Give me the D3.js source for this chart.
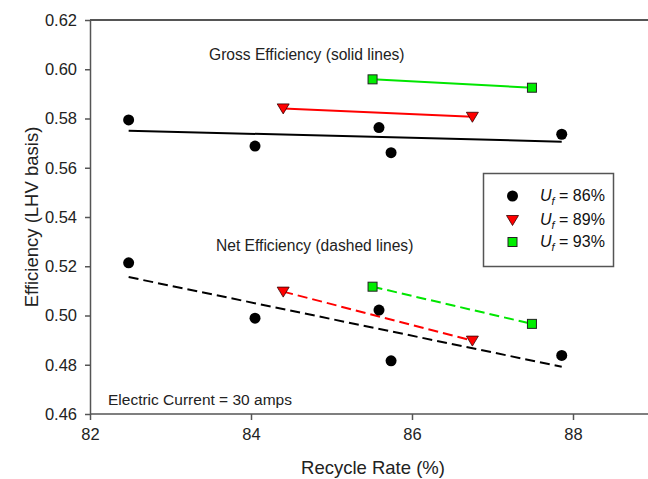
<!DOCTYPE html>
<html>
<head>
<meta charset="utf-8">
<script src="https://cdn.jsdelivr.net/npm/d3@7"></script>
<style>
  body { margin: 0; background: #fff; }
  svg { font-family: "Liberation Sans", Arial, sans-serif; }
</style>
</head>
<body>
<div id="chart"></div>
<script>
// values
var rate86 = [82.48, 84.05, 85.59, 85.74, 87.86];
var gross86 = [0.5794, 0.5688, 0.5763, 0.5661, 0.5736];
var net86 = [0.5214, 0.4989, 0.5022, 0.4816, 0.4838];
var rate89 = [84.40, 86.75];
var gross89 = [0.5841, 0.5807];
var net89 = [0.5097, 0.4898];
var rate93 = [85.51, 87.49];
var gross93 = [0.5959, 0.5925];
var net93 = [0.5117, 0.4966];

var xTicks = [82, 84, 86, 88];
var yTicks = [0.46, 0.48, 0.50, 0.52, 0.54, 0.56, 0.58, 0.60, 0.62];
var legendLabels = ["86%", "89%", "93%"];

var width = 648, height = 479;
var axisColor = "#555";

var x = d3.scaleLinear().domain([82, 89]).range([90, 653.5]);
var y = d3.scaleLinear().domain([0.46, 0.62]).range([414, 20]);

var svg = d3.select("#chart").append("svg")
  .attr("width", width)
  .attr("height", height);

function zip(xs, ys) {
  return xs.map(function(v, i) { return [v, ys[i]]; });
}

// least squares line through a series, drawn over its x extent
function fitLine(xs, ys) {
  var mx = d3.mean(xs), my = d3.mean(ys);
  var sxy = d3.sum(xs, function(v, i) { return (v - mx) * (ys[i] - my); });
  var sxx = d3.sum(xs, function(v) { return (v - mx) * (v - mx); });
  var b = sxy / sxx;
  var ext = d3.extent(xs);
  return ext.map(function(v) { return [v, my + b * (v - mx)]; });
}

var line = d3.line()
  .x(function(d) { return x(d[0]); })
  .y(function(d) { return y(d[1]); });

// frame: top border and axes
svg.append("line")
  .attr("x1", x(82)).attr("x2", width)
  .attr("y1", y(0.62)).attr("y2", y(0.62))
  .attr("stroke", axisColor).attr("stroke-width", 2);

var xAxis = svg.append("g")
  .attr("transform", "translate(0," + y(0.46) + ")")
  .call(d3.axisBottom(x).tickValues(xTicks).tickSize(6).tickSizeOuter(0).tickPadding(8)
    .tickFormat(d3.format("d")));
xAxis.select(".domain").attr("d", "M" + x(82) + ",0H" + width);

var yAxis = svg.append("g")
  .attr("transform", "translate(" + x(82) + ",0)")
  .call(d3.axisLeft(y).tickValues(yTicks).tickSize(5).tickSizeOuter(0).tickPadding(8)
    .tickFormat(d3.format(".2f")));

svg.selectAll(".domain, .tick line")
  .attr("stroke", axisColor)
  .attr("stroke-width", 1.5);
svg.selectAll(".tick text")
  .attr("font-size", 16.5)
  .attr("fill", "#222")
  .attr("font-family", "Liberation Sans, Arial, sans-serif");

// axis titles
svg.append("text")
  .attr("x", 373).attr("y", 474)
  .attr("text-anchor", "middle")
  .attr("font-size", 18.5)
  .attr("fill", "#222")
  .text("Recycle Rate (%)");

svg.append("text")
  .attr("transform", "translate(38," + 217 + ") rotate(-90)")
  .attr("text-anchor", "middle")
  .attr("font-size", 18.5)
  .attr("fill", "#222")
  .text("Efficiency (LHV basis)");

// lines
var series = [
  { pts: fitLine(rate86, gross86), color: "#000", dash: null },
  { pts: fitLine(rate86, net86), color: "#000", dash: "10,5" },
  { pts: zip(rate89, gross89), color: "#ff0000", dash: null },
  { pts: zip(rate89, net89), color: "#ff0000", dash: "10,5" },
  { pts: zip(rate93, gross93), color: "#00e600", dash: null },
  { pts: zip(rate93, net93), color: "#00e600", dash: "10,5" }
];

svg.selectAll("path.fit")
  .data(series)
  .enter().append("path")
  .attr("class", "fit")
  .attr("d", function(d) { return line(d.pts); })
  .attr("fill", "none")
  .attr("stroke", function(d) { return d.color; })
  .attr("stroke-width", 2)
  .attr("stroke-dasharray", function(d) { return d.dash; });

// markers
function circles(pts) {
  svg.append("g").selectAll("circle")
    .data(pts)
    .enter().append("circle")
    .attr("cx", function(d) { return x(d[0]); })
    .attr("cy", function(d) { return y(d[1]); })
    .attr("r", 5.5)
    .attr("fill", "#000");
}

var triangle = "M-6,-4.5L6,-4.5L0,5.5Z";
function triangles(pts) {
  svg.append("g").selectAll("path")
    .data(pts)
    .enter().append("path")
    .attr("d", triangle)
    .attr("transform", function(d) { return "translate(" + x(d[0]) + "," + y(d[1]) + ")"; })
    .attr("fill", "#ff0000")
    .attr("stroke", "#300")
    .attr("stroke-width", 0.8);
}

function squares(pts) {
  svg.append("g").selectAll("rect")
    .data(pts)
    .enter().append("rect")
    .attr("x", function(d) { return x(d[0]) - 4.5; })
    .attr("y", function(d) { return y(d[1]) - 4.5; })
    .attr("width", 9)
    .attr("height", 9)
    .attr("fill", "#00ee00")
    .attr("stroke", "#222")
    .attr("stroke-width", 1);
}

circles(zip(rate86, gross86));
circles(zip(rate86, net86));
triangles(zip(rate89, gross89));
triangles(zip(rate89, net89));
squares(zip(rate93, gross93));
squares(zip(rate93, net93));

// annotations
svg.append("text")
  .attr("x", 209).attr("y", 60)
  .attr("font-size", 15.6)
  .attr("fill", "#222")
  .text("Gross Efficiency (solid lines)");

svg.append("text")
  .attr("x", 216).attr("y", 251)
  .attr("font-size", 15.6)
  .attr("fill", "#222")
  .text("Net Efficiency (dashed lines)");

svg.append("text")
  .attr("x", 108).attr("y", 405)
  .attr("font-size", 15.5)
  .attr("fill", "#222")
  .text("Electric Current = 30 amps");

// legend
var legend = svg.append("g");
legend.append("rect")
  .attr("x", 483.5).attr("y", 173.5)
  .attr("width", 130).attr("height", 93)
  .attr("fill", "#fff")
  .attr("stroke", axisColor)
  .attr("stroke-width", 1.5);

var rowY = [196, 220, 242];
legend.append("circle")
  .attr("cx", 512.5).attr("cy", rowY[0]).attr("r", 5.5).attr("fill", "#000");
legend.append("path")
  .attr("d", triangle)
  .attr("transform", "translate(512.5," + rowY[1] + ")")
  .attr("fill", "#ff0000").attr("stroke", "#300").attr("stroke-width", 0.8);
legend.append("rect")
  .attr("x", 508).attr("y", rowY[2] - 4.5)
  .attr("width", 9).attr("height", 9)
  .attr("fill", "#00ee00").attr("stroke", "#222").attr("stroke-width", 1);

legendLabels.forEach(function(lab, i) {
  var t = legend.append("text")
    .attr("x", 540).attr("y", rowY[i] + 5)
    .attr("font-size", 16)
    .attr("fill", "#111");
  t.append("tspan").attr("font-style", "italic").text("U");
  t.append("tspan").attr("font-style", "italic").attr("font-size", 11)
    .attr("dy", 4).text("f");
  t.append("tspan").attr("dy", -4).text(" = " + lab);
});
</script>
</body>
</html>
